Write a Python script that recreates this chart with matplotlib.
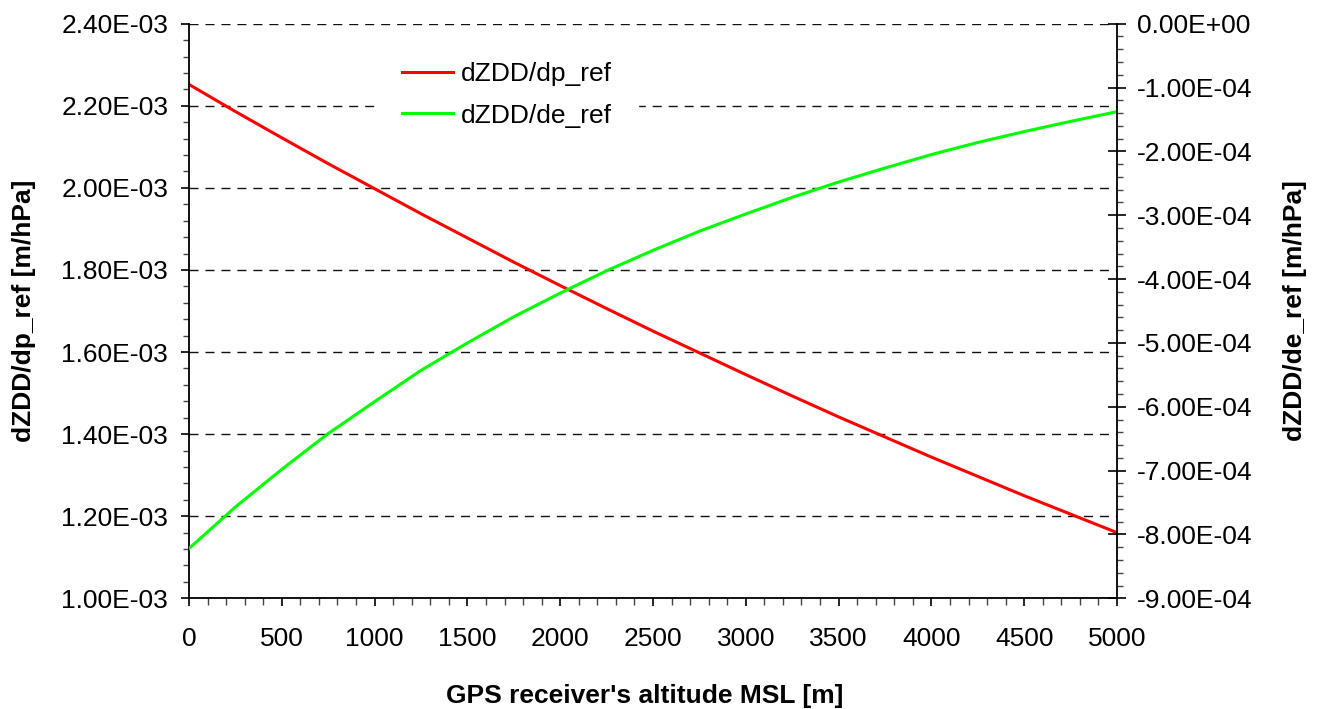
import matplotlib
matplotlib.use("Agg")
import matplotlib.pyplot as plt
from matplotlib.ticker import MultipleLocator, AutoMinorLocator, FuncFormatter

plt.rcParams['font.family'] = ['Liberation Sans', 'DejaVu Sans']

# altitude [m] and sensitivities
altitude = [0, 250, 500, 750, 1000, 1250, 1500, 1750, 2000, 2250, 2500,
            2750, 3000, 3250, 3500, 3750, 4000, 4250, 4500, 4750, 5000]
dzdd_dp = [2.252e-3, 2.186e-3, 2.122e-3, 2.059e-3, 1.998e-3, 1.937e-3, 1.878e-3,
           1.819e-3, 1.762e-3, 1.706e-3, 1.651e-3, 1.598e-3, 1.545e-3, 1.493e-3,
           1.442e-3, 1.393e-3, 1.344e-3, 1.297e-3, 1.250e-3, 1.205e-3, 1.160e-3]
dzdd_de = [-8.22e-4, -7.57e-4, -6.98e-4, -6.42e-4, -5.92e-4, -5.43e-4, -5.00e-4,
           -4.59e-4, -4.22e-4, -3.87e-4, -3.55e-4, -3.25e-4, -2.98e-4, -2.72e-4,
           -2.48e-4, -2.26e-4, -2.05e-4, -1.86e-4, -1.69e-4, -1.53e-4, -1.378e-4]

W, H = 1323, 709
fig = plt.figure(figsize=(W / 100, H / 100), dpi=100)
ax = fig.add_axes([189 / W, 1 - 598.3 / H, (1117 - 189) / W, (598.3 - 23.7) / H])
ax2 = ax.twinx()

red, = ax.plot(altitude, dzdd_dp, color='#ff0000', lw=2.2, label='dZDD/dp_ref')
green, = ax2.plot(altitude, dzdd_de, color='#00ff00', lw=2.2, label='dZDD/de_ref')

ax.set_xlim(0, 5000)
ax.set_ylim(1.0e-3, 2.4e-3)
ax2.set_ylim(-9e-4, 0)

sci = FuncFormatter(lambda v, p: f"{v:.2E}")

ax.xaxis.set_major_locator(MultipleLocator(500))
ax.xaxis.set_minor_locator(AutoMinorLocator(5))
ax.yaxis.set_major_locator(MultipleLocator(0.2e-3))
ax.yaxis.set_minor_locator(AutoMinorLocator(5))
ax.yaxis.set_major_formatter(sci)
ax2.yaxis.set_major_locator(MultipleLocator(1e-4))
ax2.yaxis.set_minor_locator(AutoMinorLocator(5))
ax2.yaxis.set_major_formatter(sci)

ax.grid(axis='y', which='major', color='#111111', lw=1.0, linestyle=(0, (6.5, 5)))

for a in (ax, ax2):
    a.spines['top'].set_visible(False)
    for s in a.spines.values():
        s.set_linewidth(1.3)
ax.spines['right'].set_visible(False)
ax2.spines['left'].set_visible(False)
ax2.spines['bottom'].set_visible(False)

ax.tick_params(axis='y', which='major', direction='out', length=6, width=1.2, labelsize=19, pad=9)
ax.tick_params(axis='y', which='minor', direction='out', length=4.5, width=1.0, color='#444444')
ax.tick_params(axis='x', which='major', direction='out', length=6, width=1.2, labelsize=19, pad=14.5)
ax.tick_params(axis='x', which='minor', direction='out', length=5, width=1.0, color='#444444')
ax2.tick_params(axis='y', which='major', direction='inout', length=13, width=1.2, labelsize=19, pad=8)
ax2.tick_params(axis='y', which='minor', direction='out', length=4.5, width=1.0, color='#444444')

fig.text(24 / W, 1 - 311 / H, 'dZDD/dp_ref [m/hPa]', rotation=90, ha='center', va='center',
         fontsize=19, fontweight='bold')
fig.text(1295 / W, 1 - 311 / H, 'dZDD/de_ref [m/hPa]', rotation=90, ha='center', va='center',
         fontsize=19, fontweight='bold')
fig.text(645 / W, 1 - 696 / H, "GPS receiver's altitude MSL [m]", ha='center', va='center',
         fontsize=19, fontweight='bold')

leg = ax2.legend(handles=[red, green], loc='upper left',
                 bbox_to_anchor=(376 / W, 1 - 36 / H), bbox_transform=fig.transFigure,
                 borderaxespad=0, fontsize=19, frameon=True, fancybox=False,
                 framealpha=1, facecolor='white', edgecolor='white',
                 handlelength=1.93, handletextpad=0.27, borderpad=1.0, labelspacing=0.65)

fig.savefig('out.png', dpi=100)
